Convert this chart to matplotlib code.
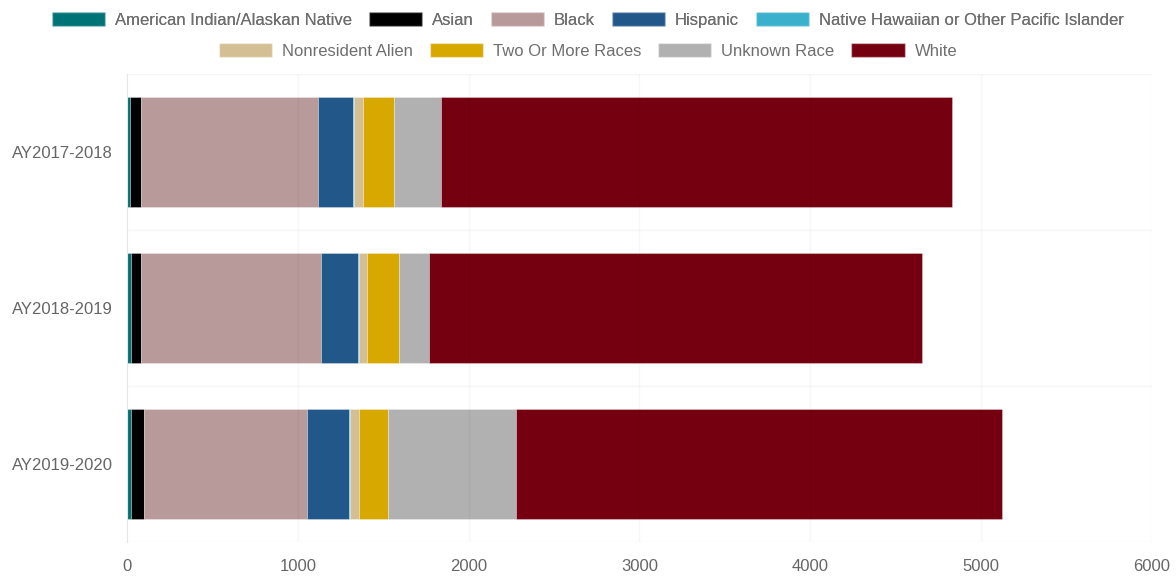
import numpy as np
import matplotlib
matplotlib.use("Agg")
import matplotlib.pyplot as plt
from matplotlib.patches import Patch

plt.rcParams['font.family'] = ['Liberation Sans', 'DejaVu Sans']

# --- Data (headcount by race/ethnicity per academic year) ---
years = ["AY2017-2018", "AY2018-2019", "AY2019-2020"]
groups = ["American Indian/Alaskan Native", "Asian", "Black", "Hispanic",
          "Native Hawaiian or Other Pacific Islander", "Nonresident Alien",
          "Two Or More Races", "Unknown Race", "White"]

am_indian = [15, 23, 23]
asian = [67, 59, 74]
black = [1036, 1056, 957]
hispanic = [205, 213, 246]
hawaiian = [9, 6, 6]
nonresident = [47, 47, 50]
two_more = [184, 187, 172]
unknown = [277, 180, 750]
white = [2990, 2883, 2846]

series = [am_indian, asian, black, hispanic, hawaiian, nonresident,
          two_more, unknown, white]
colors = ["#007377", "#000000", "#b89a9a", "#22578a", "#3ab0cc",
          "#d4bf94", "#d6a800", "#b0b1b0", "#75000f"]

fig = plt.figure(figsize=(11.76, 5.78), dpi=100)
ax = fig.add_axes([0.108, 0.0623, 0.8713, 0.8097])

y = np.arange(len(years))
left = np.zeros(len(years))
for vals, col in zip(series, colors):
    ax.barh(y, vals, left=left, height=0.71, color=col,
            edgecolor=(1, 1, 1, 0.35), linewidth=0.6, zorder=2)
    left += np.array(vals)

ax.set_xlim(0, 6000)
ax.set_ylim(2.5, -0.5)
ax.set_xticks(np.arange(0, 6001, 1000))
ax.set_yticks(y)
ax.set_yticklabels(years)

# very faint grid, partly showing through the bars
for xv in range(1000, 6001, 1000):
    ax.axvline(xv, color=(0, 0, 0, 0.03), lw=1, zorder=3)
for yv in [-0.5, 0.5, 1.5, 2.5]:
    ax.axhline(yv, color="#f6f6f6", lw=1, zorder=1)

for s in ["top", "right", "bottom"]:
    ax.spines[s].set_visible(False)
ax.spines["left"].set_color("#e6e6e6")
ax.tick_params(axis="both", length=0, labelsize=12, colors="#666666")
ax.tick_params(axis="y", pad=10)
ax.tick_params(axis="x", pad=12)

handles = [Patch(facecolor=c, edgecolor=(1, 1, 1, 0.4), label=g)
           for g, c in zip(groups, colors)]
kw = dict(frameon=False, fontsize=12, labelcolor="#6e6e6e",
          handlelength=3.2, handleheight=0.95, handletextpad=0.6,
          columnspacing=1.0, borderaxespad=0, borderpad=0)
leg1 = fig.legend(handles=handles[:5], ncol=5, loc="center",
                  bbox_to_anchor=(0.5, 1 - 20 / 578), **kw)
fig.add_artist(leg1)
fig.legend(handles=handles[5:], ncol=4, loc="center",
           bbox_to_anchor=(0.5, 1 - 51 / 578), **kw)

fig.savefig("out.png", dpi=100)
